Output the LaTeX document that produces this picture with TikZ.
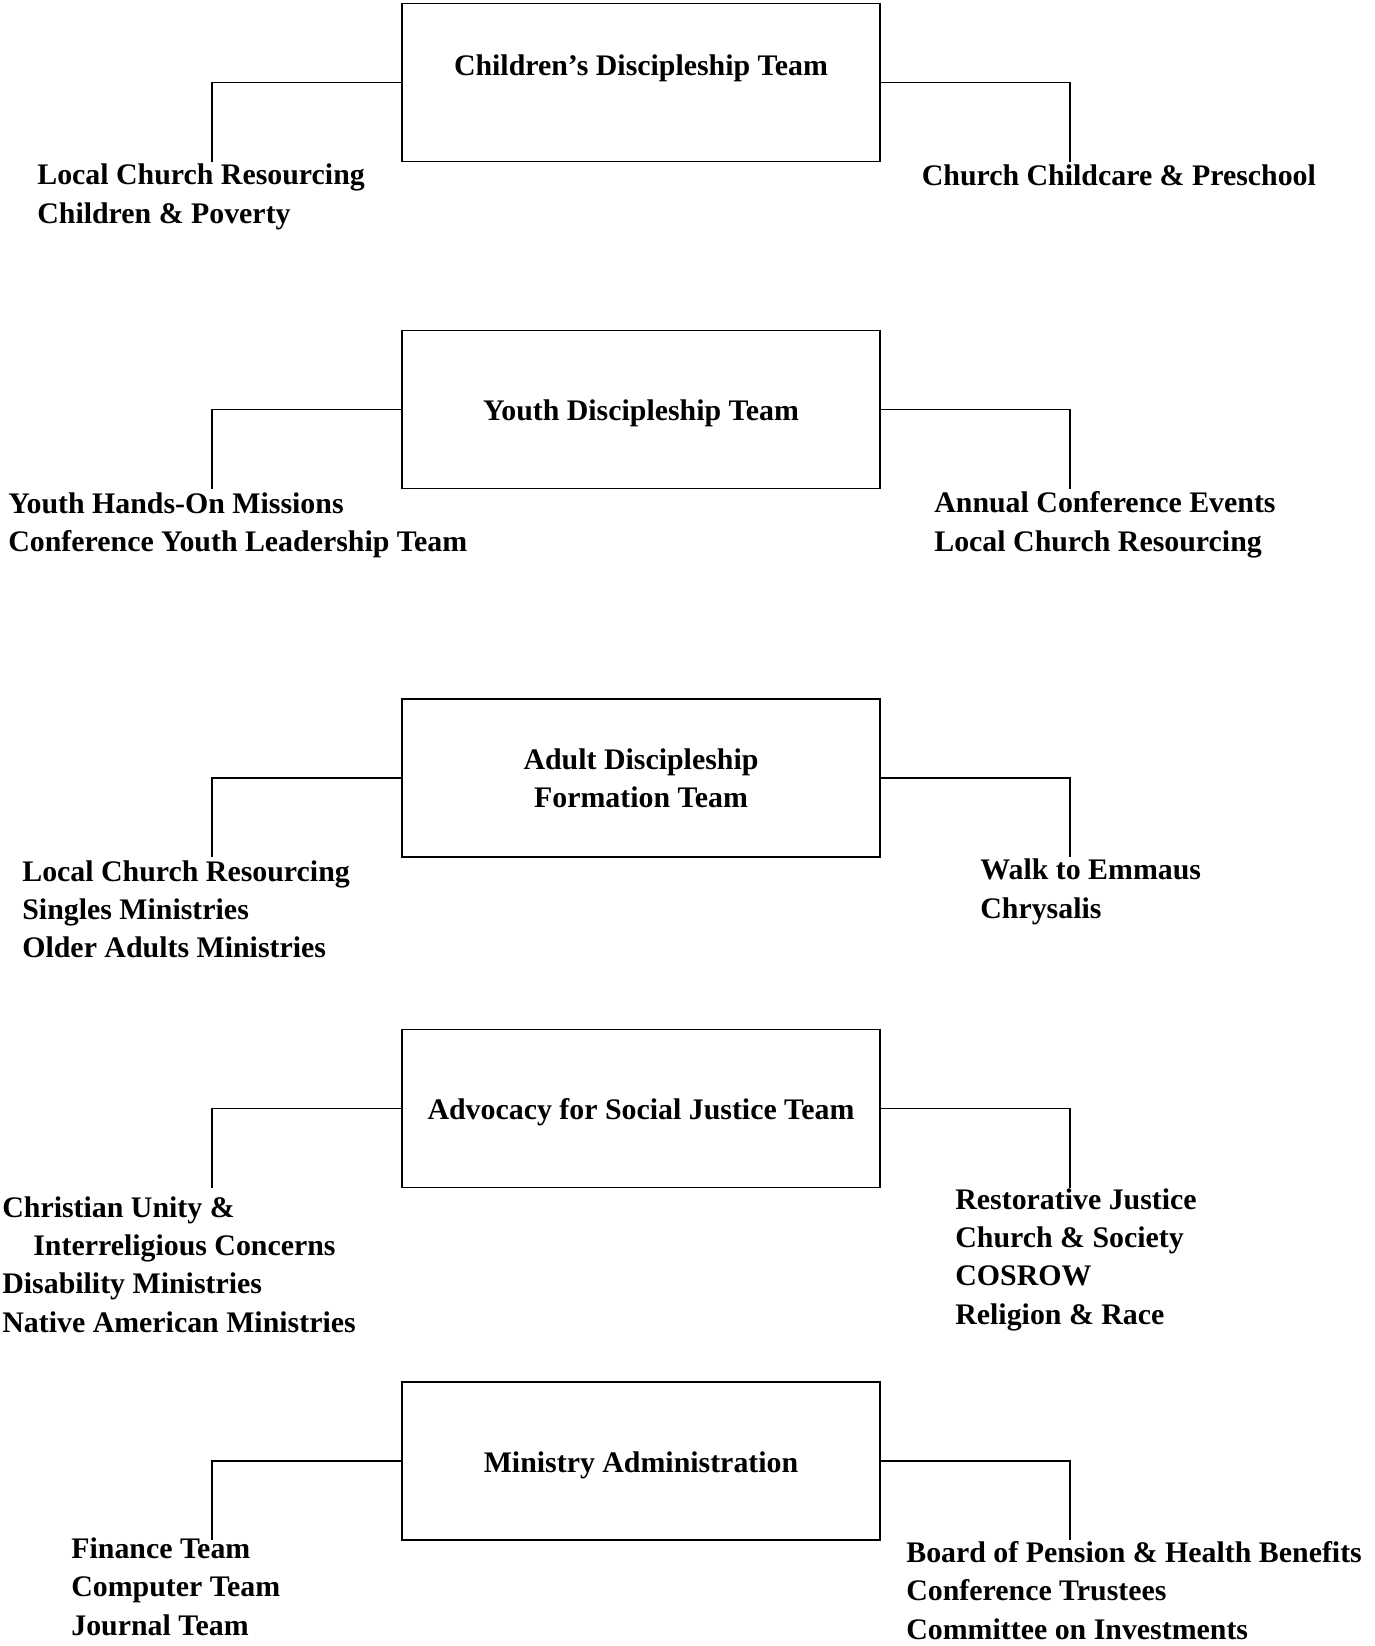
\documentclass[tikz,border=0pt]{standalone}
\usepackage{fontspec}
\setmainfont{Liberation Serif}
\tikzset{
  team/.style={draw, line width=0.8pt, minimum width=9.56cm, minimum height=3.16cm,
    align=center, font=\bfseries\fontsize{17}{21.8}\selectfont},
  unit/.style={anchor=base west, inner sep=0pt, align=left,
    font=\bfseries\fontsize{17}{21.8}\selectfont}
}
\begin{document}
\begin{tikzpicture}[x=0.02cm,y=-0.02cm]
      \useasboundingbox (0,0) rectangle (1375,1646);
      \draw
        (641,82.5) node[team,text height=0.43cm,text depth=0.71cm] (t1){Children’s Discipleship Team}
        (641,409.5) node[team,text height=0.58cm,text depth=0.13cm] (t2){Youth Discipleship Team}
        (641,778) node[team,yshift=0pt] (t3){Adult Discipleship\\Formation Team}
        (641,1108.5) node[team,text height=0.58cm,text depth=0.13cm] (t4){Advocacy for Social Justice Team}
        (641,1461) node[team,text height=0.58cm,text depth=0.13cm] (t5){Ministry Administration};
      \draw
        (37,223.3) node[unit] (l1){Local Church Resourcing\\Children \& Poverty}
        (921.5,185) node[unit] (r1){Church Childcare \& Preschool}
        (8,551.3) node[unit] (l2){Youth Hands-On Missions\\Conference Youth Leadership Team}
        (934,551) node[unit] (r2){Annual Conference Events\\Local Church Resourcing}
        (22,957.6) node[unit] (l3){Local Church Resourcing\\Singles Ministries\\Older Adults Ministries}
        (980,918) node[unit] (r3){Walk to Emmaus\\Chrysalis}
        (2,1332) node[unit] (l4){Christian Unity \&\\\hspace*{0.62cm}Interreligious Concerns\\Disability Ministries\\Native American Ministries}
        (955,1324) node[unit] (r4){Restorative Justice\\Church \& Society\\COSROW\\Religion \& Race}
        (71,1635) node[unit] (l5){Finance Team\\Computer Team\\Journal Team}
        (906,1639) node[unit] (r5){Board of Pension \& Health Benefits\\Conference Trustees\\Committee on Investments};
      \coordinate (a1) at (212,161.5);
      \coordinate (b1) at (1070,161.5);
      \coordinate (a2) at (212,488.5);
      \coordinate (b2) at (1070,488.5);
      \coordinate (a3) at (212,857);
      \coordinate (b3) at (1070,857);
      \coordinate (a4) at (212,1187.5);
      \coordinate (b4) at (1070,1187.5);
      \coordinate (a5) at (212,1540);
      \coordinate (b5) at (1070,1540);
      \begin{scope}[-,line width=0.6pt]
        \draw (t1.west) -| (a1);
        \draw (t1.east) -| (b1);
        \draw (t2.west) -| (a2);
        \draw (t2.east) -| (b2);
        \draw (t3.west) -| (a3);
        \draw (t3.east) -| (b3);
        \draw (t4.west) -| (a4);
        \draw (t4.east) -| (b4);
        \draw (t5.west) -| (a5);
        \draw (t5.east) -| (b5);
      \end{scope}
    \end{tikzpicture}
\end{document}
